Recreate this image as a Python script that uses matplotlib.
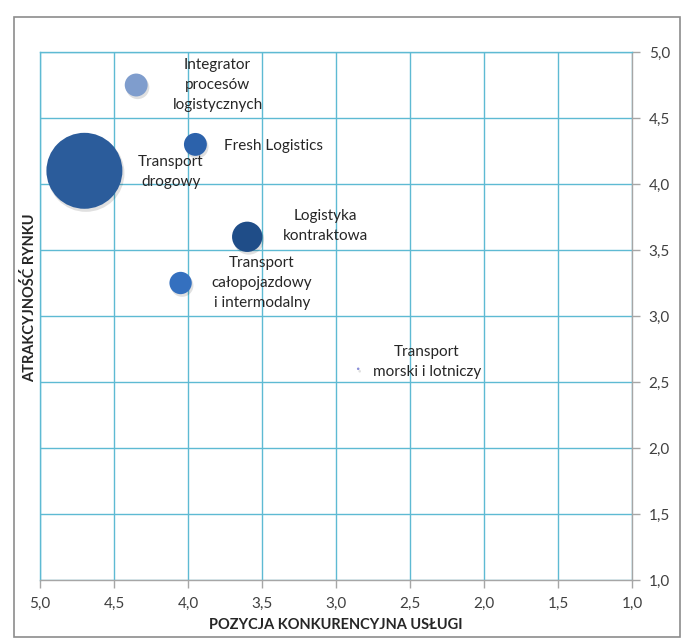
import matplotlib.pyplot as plt
from matplotlib.patches import Rectangle
from matplotlib.transforms import ScaledTranslation

plt.rcParams["font.family"] = ["Lato", "DejaVu Sans"]

# dane: pozycja konkurencyjna (x), atrakcyjnosc rynku (y), wielkosc bąbla
uslugi = [
    "Integrator\nprocesów\nlogistycznych",
    "Fresh Logistics",
    "Transport\ndrogowy",
    "Logistyka\nkontraktowa",
    "Transport\ncałopojazdowy\ni intermodalny",
    "Transport\nmorski i lotniczy",
]
pozycja = [4.35, 3.95, 4.70, 3.60, 4.05, 2.85]
atrakcyjnosc = [4.75, 4.30, 4.10, 3.60, 3.25, 2.60]
wielkosc = [4.0, 4.0, 44.0, 7.0, 3.8, 0.05]

ticks = [5.0, 4.5, 4.0, 3.5, 3.0, 2.5, 2.0, 1.5, 1.0]
tick_labels = ["5,0", "4,5", "4,0", "3,5", "3,0", "2,5", "2,0", "1,5", "1,0"]

# wyglad
kolory = ["#7f9dcd", "#2c62ab", "#2b5c9b", "#1f4d88", "#3470bf", "#8a8fd8"]
etykiety_xy = [(3.80, 4.75), (3.42, 4.29), (4.115, 4.09),
               (3.07, 3.68), (3.50, 3.25), (2.385, 2.65)]
grid_c = "#5ebad3"
axis_c = "#a6a6a6"
txt_c = "#262626"

fig = plt.figure(figsize=(6.82, 6.39), dpi=100)
ax = fig.add_axes([40 / 682, 1 - 580 / 639, 592 / 682, 528 / 639])

s = [w * 68 for w in wielkosc]
# lekki cien pod babelkami
shift = ax.transData + ScaledTranslation(1.5 / 100, -2.5 / 100, fig.dpi_scale_trans)
ax.scatter(pozycja, atrakcyjnosc, s=[v * 1.03 for v in s], color="#000000",
           alpha=0.12, lw=0, zorder=3, transform=shift)
ax.scatter(pozycja, atrakcyjnosc, s=s, c=kolory, lw=0, zorder=4)

for name, (lx, ly) in zip(uslugi, etykiety_xy):
    ax.text(lx, ly, name, ha="center", va="center", fontsize=11,
            color=txt_c, linespacing=1.5, zorder=5)

ax.set_xlim(5.0, 1.0)
ax.set_ylim(1.0, 5.0)
ax.set_xticks(ticks)
ax.set_xticklabels(tick_labels)
ax.set_yticks(ticks)
ax.set_yticklabels(tick_labels)
ax.yaxis.tick_right()
ax.tick_params(axis="both", colors=axis_c, labelcolor="#404040",
               labelsize=11, length=6, width=1, direction="out")
ax.tick_params(axis="x", pad=6)
ax.tick_params(axis="y", pad=6)

ax.grid(True, color=grid_c, lw=1, zorder=0)
ax.set_axisbelow(True)
for side in ["left", "top"]:
    ax.spines[side].set_color(grid_c)
for side in ["right", "bottom"]:
    ax.spines[side].set_color(axis_c)
for sp in ax.spines.values():
    sp.set_linewidth(1)

ax.set_xlabel("POZYCJA KONKURENCYJNA USŁUGI", fontsize=10.5, fontweight="bold",
              color=txt_c, labelpad=5)
fig.text(30 / 682, 1 - 298 / 639, "ATRAKCYJNOŚĆ RYNKU", rotation=90,
         ha="center", va="center", fontsize=10.5, fontweight="bold", color=txt_c)

# ramka wykresu
fig.patches.append(Rectangle((14 / 682, 1 - 637 / 639), 666 / 682, 620 / 639,
                             transform=fig.transFigure, fill=False,
                             edgecolor="#8c8c8c", lw=1.2))

fig.savefig("out.png", dpi=100)
